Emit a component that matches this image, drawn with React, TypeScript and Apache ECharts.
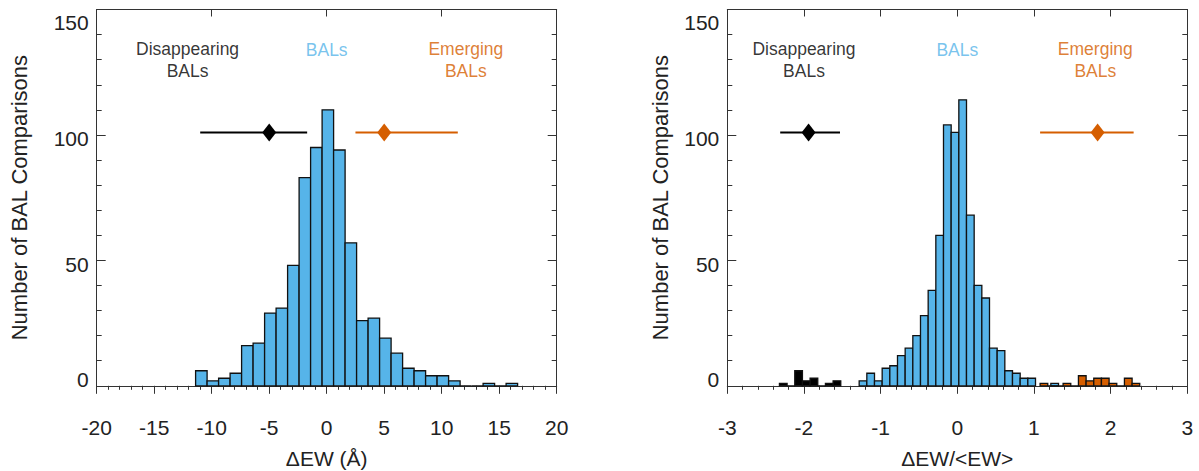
import React, { useEffect, useRef } from "react";
import * as echarts from "echarts";

// ---------- data ----------
// Left panel: histogram of ΔEW (Å), bin lower edges and counts
const leftBinLo = [-11.4, -10.4, -9.4, -8.4, -7.4, -6.4, -5.4, -4.4, -3.4, -2.4, -1.4, -0.4, 0.6, 1.6, 2.6, 3.6, 4.6, 5.6, 6.6, 7.6, 8.6, 9.6, 10.6, 11.6, 12.6, 13.6, 14.6, 15.6];
const leftCounts = [6, 2, 3, 5, 16, 17, 29, 31, 48, 83, 95, 110, 94, 57, 26, 27, 19, 13, 7, 6, 4, 4, 2, 0, 0, 1, 0, 1];
const leftBinWidth = 1;

// Right panel: histogram of ΔEW/<EW>
const rightBlueLo = [-1.28, -1.18, -1.08, -0.98, -0.88, -0.78, -0.68, -0.58, -0.48, -0.38, -0.28, -0.18, -0.08, 0.02, 0.12, 0.22, 0.32, 0.42, 0.52, 0.62, 0.72, 0.82, 0.92, 1.22];
const rightBlueCounts = [2, 5, 2, 7, 8, 12, 15, 20, 28, 38, 60, 104, 101, 114, 68, 40, 35, 15, 14, 6, 5, 3, 3, 1];
const rightBlackLo = [-2.32, -2.22, -2.12, -2.02, -1.92, -1.82, -1.72, -1.62];
const rightBlackCounts = [1, 0, 6, 2, 3, 0, 1, 2];
const rightOrangeLo = [1.08, 1.18, 1.28, 1.38, 1.48, 1.58, 1.68, 1.78, 1.88, 1.98, 2.08, 2.18, 2.28];
const rightOrangeCounts = [1, 0, 0, 1, 0, 4, 2, 3, 3, 1, 0, 3, 1];
const rightBinWidth = 0.1;

// Mean markers with ranges: [low, mean, high, y]
const leftDisappear = [-11, -5, -1.7, 101];
const leftEmerge = [2.5, 5, 11.4, 101];
const rightDisappear = [-2.31, -1.94, -1.53, 101];
const rightEmerge = [1.08, 1.83, 2.3, 101];

// Annotation text positions [x, y]
const leftLabels = { disappear: [-12.1, 130], bals: [0, 134], emerge: [12.1, 130] };
const rightLabels = { disappear: [-2.0, 130], bals: [0, 134], emerge: [1.8, 130] };

const xTitleLeft = "ΔEW (Å)";
const xTitleRight = "ΔEW/<EW>";
const yTitle = "Number of BAL Comparisons";

// ---------- styles ----------
const FONT = "'Liberation Sans', Arial, Helvetica, sans-serif";
const AXIS = "#333";
const TEXT = "#222";
const BLUE = "#56B4E9";
const ORANGE = "#D55E00";
const BLACK = "#000";

function bottomX(gridIndex: number, min: number, max: number, interval: number, name: string) {
  return {
    type: "value", gridIndex, position: "bottom", min, max, interval,
    name, nameLocation: "middle", nameGap: 62,
    nameTextStyle: { fontSize: 21, lineHeight: 21, color: TEXT, fontFamily: FONT },
    axisLine: { show: true, onZero: false, lineStyle: { color: AXIS, width: 1 } },
    axisTick: { show: true, inside: false, length: 8, lineStyle: { color: AXIS } },
    minorTick: { show: true, splitNumber: 5, length: 4, lineStyle: { color: AXIS } },
    axisLabel: { show: true, margin: 31, fontSize: 21, color: TEXT, fontFamily: FONT },
    splitLine: { show: false }, minorSplitLine: { show: false },
  };
}
function topX(gridIndex: number, min: number, max: number, interval: number) {
  return {
    type: "value", gridIndex, position: "top", min, max, interval,
    axisLine: { show: true, onZero: false, lineStyle: { color: AXIS, width: 1 } },
    axisTick: { show: true, inside: true, length: 7, lineStyle: { color: AXIS } },
    axisLabel: { show: false }, splitLine: { show: false },
  };
}
const rich = {
  n: { padding: [8, 0, 0, 0], fontSize: 21, color: TEXT, fontFamily: FONT },
  hi: { padding: [26, 0, 0, 0], fontSize: 21, color: TEXT, fontFamily: FONT },
  lo: { padding: [0, 0, 12, 0], fontSize: 21, color: TEXT, fontFamily: FONT },
};
function leftY(gridIndex: number, nameGap: number) {
  return {
    type: "value", gridIndex, position: "left", min: 0, max: 150, interval: 50,
    name: yTitle, nameLocation: "middle", nameGap,
    nameTextStyle: { fontSize: 22, color: TEXT, fontFamily: FONT },
    axisLine: { show: true, onZero: false, lineStyle: { color: AXIS, width: 1 } },
    axisTick: { show: true, inside: true, length: 9, lineStyle: { color: AXIS } },
    minorTick: { show: true, splitNumber: 5, length: 5, lineStyle: { color: AXIS } },
    axisLabel: {
      show: true, margin: 8, fontSize: 21, color: TEXT, fontFamily: FONT,
      formatter: (v: number) => (v === 0 ? "{lo|0}" : v === 150 ? "{hi|150}" : `{n|${v}}`),
      rich,
    },
    splitLine: { show: false }, minorSplitLine: { show: false },
  };
}
function rightY(gridIndex: number) {
  return {
    type: "value", gridIndex, position: "right", min: 0, max: 150, interval: 50,
    axisLine: { show: true, onZero: false, lineStyle: { color: AXIS, width: 1 } },
    axisTick: { show: true, inside: true, length: 9, lineStyle: { color: AXIS } },
    minorTick: { show: true, splitNumber: 5, length: 5, lineStyle: { color: AXIS } },
    axisLabel: { show: false }, splitLine: { show: false }, minorSplitLine: { show: false },
  };
}

function hist(panel: number, lo: number[], counts: number[], width: number, color: string) {
  return {
    type: "custom", xAxisIndex: panel * 2, yAxisIndex: panel * 2, silent: true,
    data: lo.map((l, i) => [l, l + width, counts[i]]),
    encode: { x: [0, 1], y: 2 },
    renderItem: (_p: any, api: any) => {
      const a = api.coord([api.value(0), api.value(2)]);
      const b = api.coord([api.value(1), 0]);
      return {
        type: "rect",
        shape: { x: a[0], y: a[1], width: b[0] - a[0], height: b[1] - a[1] },
        style: { fill: color, stroke: "#111", lineWidth: 1.3 },
      };
    },
  };
}

function meanBar(panel: number, d: number[], color: string) {
  return [
    {
      type: "line", xAxisIndex: panel * 2, yAxisIndex: panel * 2, silent: true,
      data: [[d[0], d[3]], [d[2], d[3]]], symbol: "none",
      lineStyle: { color, width: 2 }, z: 5,
    },
    {
      type: "scatter", xAxisIndex: panel * 2, yAxisIndex: panel * 2, silent: true,
      data: [[d[1], d[3]]], symbol: "diamond", symbolSize: [14, 18],
      itemStyle: { color, opacity: 1 }, z: 6,
    },
  ];
}

function labels(panel: number, pos: any) {
  const item = (p: number[], text: string, color: string) => ({
    value: p, label: { formatter: text, color },
  });
  return {
    type: "scatter", xAxisIndex: panel * 2, yAxisIndex: panel * 2, silent: true,
    symbolSize: 1, itemStyle: { color: "rgba(0,0,0,0)" },
    label: {
      show: true, position: "inside", fontSize: 17.5, lineHeight: 22,
      fontFamily: FONT, align: "center", verticalAlign: "middle",
    },
    data: [
      item(pos.disappear, "Disappearing\nBALs", "#000"),
      item(pos.bals, "BALs", BLUE),
      item(pos.emerge, "Emerging\nBALs", ORANGE),
    ],
  };
}

export default function App() {
  const ref = useRef<HTMLDivElement>(null);
  useEffect(() => {
    if (!ref.current) return;
    const chart = echarts.init(ref.current, undefined, { renderer: "svg" });
    chart.setOption({
      animation: false,
      grid: [
        { left: 96.7, right: 642.3, top: 9.5, bottom: 85.2, containLabel: false, outerBoundsMode: "none" },
        { left: 727.3, right: 11.7, top: 9.5, bottom: 85.2, containLabel: false, outerBoundsMode: "none" },
      ],
      xAxis: [
        bottomX(0, -20, 20, 5, xTitleLeft),
        topX(0, -20, 20, 10),
        bottomX(1, -3, 3, 1, xTitleRight),
        topX(1, -3, 3, 1),
      ],
      yAxis: [leftY(0, 66), rightY(0), leftY(1, 56), rightY(1)],
      series: [
        hist(0, leftBinLo, leftCounts, leftBinWidth, BLUE),
        hist(1, rightBlueLo, rightBlueCounts, rightBinWidth, BLUE),
        hist(1, rightBlackLo, rightBlackCounts, rightBinWidth, BLACK),
        hist(1, rightOrangeLo, rightOrangeCounts, rightBinWidth, ORANGE),
        ...meanBar(0, leftDisappear, BLACK),
        ...meanBar(0, leftEmerge, ORANGE),
        ...meanBar(1, rightDisappear, BLACK),
        ...meanBar(1, rightEmerge, ORANGE),
        labels(0, leftLabels),
        labels(1, rightLabels),
      ],
    });
    return () => chart.dispose();
  }, []);
  return (
    <div
      ref={ref}
      style={{ position: "fixed", left: 0, top: 0, width: 1199, height: 471, background: "#fff" }}
    />
  );
}
